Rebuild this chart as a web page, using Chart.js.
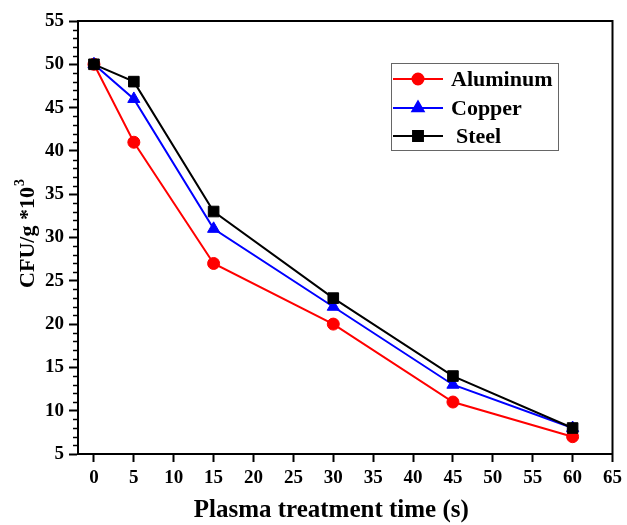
<!DOCTYPE html>
<html>
<head>
<meta charset="utf-8">
<script src="https://cdn.jsdelivr.net/npm/chart.js@4"></script>
<style>
  html, body { margin: 0; padding: 0; background: #fff; }
  #wrap { width: 627px; height: 525px; }
</style>
</head>
<body>
<div id="wrap"><canvas id="cfuChart" width="627" height="525"></canvas></div>
<script>
// treatment times (s)
const times = [0, 5, 15, 30, 45, 60];
// CFU/g *10^3 per material
const aluminum = [50, 41, 27, 20, 11, 7];
const copper = [50, 46, 31, 22, 13, 8];
const steel = [50, 48, 33, 23, 14, 8];

const seriesNames = ['Aluminum', 'Copper', 'Steel'];
const seriesColors = ['#ff0000', '#0000ff', '#000000'];
const seriesShapes = ['circle', 'triangle', 'rect'];

const serif = '"Liberation Serif", "Times New Roman", serif';

// frame, minor ticks, axis titles, legend box
const decorations = {
    id: 'decorations',
    afterDraw(chart) {
        const ctx = chart.ctx;
        const area = chart.chartArea;
        const yScale = chart.scales.y;
        ctx.save();
        ctx.strokeStyle = '#000';
        ctx.lineWidth = 2;
        ctx.strokeRect(area.left, area.top, area.right - area.left, area.bottom - area.top);

        // minor ticks on y
        ctx.lineWidth = 1.5;
        for (let v = 5; v <= 55; v++) {
            if (v % 5 === 0) continue;
            const y = Math.round(yScale.getPixelForValue(v)) + 0.5;
            ctx.beginPath();
            ctx.moveTo(area.left - 5, y);
            ctx.lineTo(area.left, y);
            ctx.stroke();
        }

        // x title
        ctx.fillStyle = '#000';
        ctx.font = 'bold 25px ' + serif;
        ctx.textAlign = 'center';
        ctx.textBaseline = 'alphabetic';
        ctx.fillText('Plasma treatment time (s)', (area.left + area.right) / 2 - 14, 517);

        // y title, rotated
        ctx.save();
        ctx.translate(34, 234);
        ctx.rotate(-Math.PI / 2);
        ctx.font = 'bold 22px ' + serif;
        const main = 'CFU/g *10';
        const wMain = ctx.measureText(main).width;
        ctx.font = 'bold 14px ' + serif;
        const wSup = ctx.measureText('3').width;
        const start = -(wMain + wSup) / 2;
        ctx.textAlign = 'left';
        ctx.font = 'bold 22px ' + serif;
        ctx.fillText(main, start, 0);
        ctx.font = 'bold 14px ' + serif;
        ctx.fillText('3', start + wMain + 1, -10);
        ctx.restore();

        // legend
        ctx.lineWidth = 1;
        ctx.strokeStyle = '#666';
        ctx.strokeRect(391.5, 63.5, 167, 87);
        const rows = [79, 108, 136];
        const textX = [451, 451, 456];
        ctx.font = 'bold 22px ' + serif;
        ctx.textAlign = 'left';
        ctx.textBaseline = 'middle';
        seriesNames.forEach((name, i) => {
            const y = rows[i];
            ctx.strokeStyle = seriesColors[i];
            ctx.fillStyle = seriesColors[i];
            ctx.lineWidth = 2;
            ctx.beginPath();
            ctx.moveTo(393, y);
            ctx.lineTo(443, y);
            ctx.stroke();
            Chart.helpers.drawPoint(ctx, {
                pointStyle: seriesShapes[i],
                radius: i === 0 ? 5.5 : (i === 1 ? 6.5 : 7),
                rotation: 0,
                borderWidth: 1
            }, 418, y);
            ctx.fillStyle = '#000';
            ctx.fillText(name, textX[i], y + 1);
        });
        ctx.restore();
    }
};

const makeSet = (label, values, idx, radius, order) => ({
    label: label,
    data: times.map((t, i) => ({x: t, y: values[i]})),
    borderColor: seriesColors[idx],
    backgroundColor: seriesColors[idx],
    pointStyle: seriesShapes[idx],
    pointRadius: radius,
    pointHoverRadius: radius,
    pointBorderWidth: 1,
    borderWidth: 2,
    tension: 0,
    fill: false,
    order: order
});

new Chart(document.getElementById('cfuChart').getContext('2d'), {
    type: 'line',
    data: {
        datasets: [
            makeSet('Aluminum', aluminum, 0, 6, 2),
            makeSet('Copper', copper, 1, 7, 1),
            makeSet('Steel', steel, 2, 7.5, 0)
        ]
    },
    options: {
        responsive: false,
        animation: false,
        devicePixelRatio: 1,
        layout: {padding: {top: 21, right: 12, left: 0, bottom: 0}},
        plugins: {
            legend: {display: false},
            tooltip: {enabled: false}
        },
        scales: {
            x: {
                type: 'linear',
                min: -2,
                max: 65,
                afterFit: (scale) => { scale.height = 71; },
                ticks: {
                    stepSize: 5,
                    includeBounds: false,
                    padding: 5,
                    color: '#000',
                    font: {family: serif, size: 19, weight: 'bold'}
                },
                grid: {
                    drawOnChartArea: false,
                    drawTicks: true,
                    tickLength: 8,
                    tickWidth: 2,
                    tickColor: '#000'
                },
                border: {display: true, color: '#000', width: 2}
            },
            y: {
                type: 'linear',
                min: 5,
                max: 55,
                afterFit: (scale) => { scale.width = 78; },
                ticks: {
                    stepSize: 5,
                    padding: 5,
                    color: '#000',
                    font: {family: serif, size: 19, weight: 'bold'}
                },
                grid: {
                    drawOnChartArea: false,
                    drawTicks: true,
                    tickLength: 9,
                    tickWidth: 2,
                    tickColor: '#000'
                },
                border: {display: true, color: '#000', width: 2}
            }
        }
    },
    plugins: [decorations]
});
</script>
</body>
</html>
